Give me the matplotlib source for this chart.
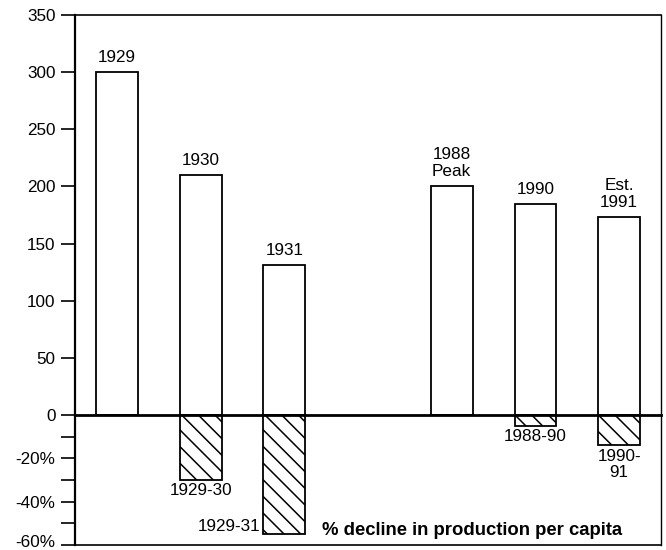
import matplotlib
matplotlib.use("Agg")
import matplotlib.pyplot as plt
from matplotlib.ticker import FixedLocator
import matplotlib.transforms as mtransforms

# ---- data ----
bar_labels = ["1929", "1930", "1931", "1988\nPeak", "1990", "Est.\n1991"]
production = [300, 210, 131, 200, 185, 173]
decline_labels = ["1929-30", "1929-31", "1988-90", "1990-\n91"]
decline_values = [-30, -55, -5, -14]
decline_bar_index = [1, 2, 4, 5]
top_ticks = [0, 50, 100, 150, 200, 250, 300, 350]
bottom_ticks = [-60, -40, -20]
bottom_tick_labels = ["-60%", "-40%", "-20%"]
bottom_minor = [-50, -30, -10]
note = "% decline in production per capita"

plt.rcParams['font.family'] = ['Liberation Sans', 'DejaVu Sans']
plt.rcParams['hatch.linewidth'] = 1.1

DPI = 100
fig = plt.figure(figsize=(666 / DPI, 550 / DPI), dpi=DPI)
W, H = 666, 550
L, R = 75, 661
T, Z, B = 15, 415, 545
ax1 = fig.add_axes([L / W, (H - Z) / H, (R - L) / W, (Z - T) / H])
ax2 = fig.add_axes([L / W, (H - B) / H, (R - L) / W, (B - Z) / H])

xpos = [0, 1, 2, 4, 5, 6]
bw = 0.5
fs = 12.3

ax1.bar(xpos, production, width=bw, color='white', edgecolor='black', linewidth=1.3, zorder=3)
for x, v, lab in zip(xpos, production, bar_labels):
    ax1.annotate(lab, (x, v), xytext=(0, 7.2), textcoords='offset points',
                 ha='center', va='baseline', fontsize=fs, linespacing=1.22)

dx = [xpos[i] for i in decline_bar_index]
ax2.bar(dx, decline_values, width=bw, color='white', edgecolor='black', linewidth=1.3,
        hatch='\\\\', zorder=3)
for k, (x, v, lab) in enumerate(zip(dx, decline_values, decline_labels)):
    if k == 1:
        ax2.annotate(lab, (x - bw / 2, v), xytext=(-2.5, 2.2), textcoords='offset points',
                     ha='right', va='baseline', fontsize=fs)
    else:
        ax2.annotate(lab, (x, v), xytext=(0, -2.5), textcoords='offset points',
                     ha='center', va='top', fontsize=fs, linespacing=1.12)

ax2.text(2.45, -55.3, note, ha='left', va='baseline', fontsize=13.3, fontweight='bold')

for ax in (ax1, ax2):
    ax.set_xlim(-0.5, 6.5)
    ax.set_xticks([])
    ax.tick_params(axis='y', which='both', direction='out', length=10, width=1.2,
                   labelsize=fs, pad=4, colors='black')

ax1.set_ylim(0, 350)
ax1.yaxis.set_major_locator(FixedLocator(top_ticks))
ax1.set_yticklabels([str(t) for t in top_ticks])
ax1.spines['bottom'].set_visible(False)
ax1.spines['left'].set_linewidth(1.6)
ax1.spines['top'].set_linewidth(1.2)
ax1.spines['right'].set_linewidth(1.0)

ax2.set_ylim(-60, 0)
ax2.yaxis.set_major_locator(FixedLocator(bottom_ticks))
ax2.set_yticklabels(bottom_tick_labels)
ax2.yaxis.set_minor_locator(FixedLocator(bottom_minor))
ax2.spines['top'].set_linewidth(2.0)
ax2.spines['top'].set_zorder(5)
ax2.spines['left'].set_linewidth(1.6)
ax2.spines['bottom'].set_linewidth(1.2)
ax2.spines['right'].set_linewidth(1.0)

# keep the lowest tick label inside the canvas
for lbl in ax2.get_yticklabels():
    if lbl.get_text() == "-60%":
        lbl.set_transform(lbl.get_transform() +
                          mtransforms.ScaledTranslation(0, 3 / 72, fig.dpi_scale_trans))

fig.savefig('out.png', dpi=DPI)
